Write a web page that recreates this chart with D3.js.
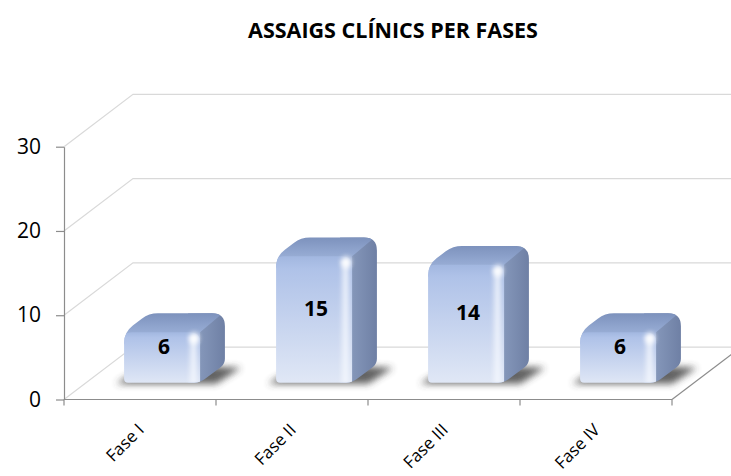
<!DOCTYPE html>
<html><head><meta charset="utf-8">
<script src="https://cdn.jsdelivr.net/npm/d3@7"></script>
<style>html,body{margin:0;padding:0;background:#fff;} svg{display:block;}</style>
</head><body><div id="chart"></div>
<script>
const title = "ASSAIGS CLÍNICS PER FASES";
const categories = ["Fase I", "Fase II", "Fase III", "Fase IV"];
const values = [6, 15, 14, 6];
const yTicks = [0, 10, 20, 30];

const W = 731, H = 476;
const font = "'Open Sans', Lato, sans-serif";
const svg = d3.select("#chart").append("svg").attr("width", W).attr("height", H);
const defs = svg.append("defs");

// plot geometry
const X0 = 64, X1 = 672, Y0 = 399.5, Y30 = 146.7;
const DX = 69, DY = -52.4;          // full depth offset of the 3D floor/walls
const z0 = 0.32, z1 = 0.68;          // bar depth span

const x = d3.scaleBand().domain(categories).range([X0, X1]).paddingInner(0.5).paddingOuter(0.25);
const y = d3.scaleLinear().domain([0, 30]).range([Y0, Y30]);

// gradients
function linGrad(id, x1, y1, x2, y2, stops) {
  const g = defs.append("linearGradient").attr("id", id)
    .attr("x1", x1).attr("y1", y1).attr("x2", x2).attr("y2", y2);
  stops.forEach(s => g.append("stop").attr("offset", s[0]).attr("stop-color", s[1]).attr("stop-opacity", s[2] == null ? 1 : s[2]));
}
linGrad("frontGrad", 0, 0, 0, 1, [[0, "#a2b7e0"], [0.1, "#afc2e8"], [1, "#e1e8f6"]]);
linGrad("sideGrad", 0, 0, 1, 0, [[0, "#9aabcb"], [0.35, "#8395b8"], [1, "#6d7ea3"]]);
linGrad("topGrad", 0, 1, 0, 0, [[0, "#a8bbe0"], [0.5, "#91a6cf"], [1, "#7a8fba"]]);
linGrad("hiGrad", 0, 0, 1, 0, [[0, "#ffffff", 0], [0.55, "#f4f8ff", 0.8], [1, "#ffffff", 0]]);
const blur = (id, s) => defs.append("filter").attr("id", id)
  .attr("x", "-50%").attr("y", "-50%").attr("width", "200%").attr("height", "200%")
  .append("feGaussianBlur").attr("stdDeviation", s);
blur("shadowBlur", 3.5);
blur("softBlur", 1.5);
blur("spotBlur", 2.5);

// back wall / side wall gridlines
const grid = svg.append("g");
yTicks.forEach(t => {
  grid.append("path")
    .attr("d", `M${X0},${y(t)}L${X0 + DX},${y(t) + DY}L${W + 20},${y(t) + DY}`)
    .attr("fill", "none").attr("stroke", "#d9d9d9").attr("stroke-width", 1.2);
});
// floor right edge
svg.append("line").attr("x1", X1).attr("y1", Y0).attr("x2", X1 + DX).attr("y2", Y0 + DY)
  .attr("stroke", "#8c8c8c").attr("stroke-width", 1.2);

function roundedPath(pts, radii) {
  const n = pts.length; let d = "";
  for (let i = 0; i < n; i++) {
    const p0 = pts[(i - 1 + n) % n], p1 = pts[i], p2 = pts[(i + 1) % n];
    const v1 = [p0[0] - p1[0], p0[1] - p1[1]], v2 = [p2[0] - p1[0], p2[1] - p1[1]];
    const l1 = Math.hypot(v1[0], v1[1]), l2 = Math.hypot(v2[0], v2[1]);
    const rr = Math.min(radii[i], l1 / 2, l2 / 2);
    const a = [p1[0] + v1[0] / l1 * rr, p1[1] + v1[1] / l1 * rr];
    const b = [p1[0] + v2[0] / l2 * rr, p1[1] + v2[1] / l2 * rr];
    d += (i === 0 ? "M" : "L") + a[0] + "," + a[1] + "Q" + p1[0] + "," + p1[1] + " " + b[0] + "," + b[1];
  }
  return d + "Z";
}

const bw = x.bandwidth();
const bdx = DX * (z1 - z0), bdy = DY * (z1 - z0);
const barsG = svg.append("g");

categories.forEach((c, i) => {
  const v = values[i];
  const xf0 = x(c) + DX * z0, xf1 = xf0 + bw;
  const yB = y(0) + DY * z0, yT = y(v) + DY * z0;
  const g = barsG.append("g");

  // shadow on floor
  g.append("path")
    .attr("d", `M${xf0 - 8},${yB + 1}L${xf1 + 16},${yB + 1}L${xf1 + bdx + 16},${yB + bdy + 4}L${xf0 + bdx},${yB + bdy}Z`)
    .attr("fill", "#3a3a3a").attr("opacity", 0.8).attr("filter", "url(#shadowBlur)");

  const sil = [[xf0, yB], [xf0, yT], [xf0 + bdx, yT + bdy], [xf1 + bdx, yT + bdy], [xf1 + bdx, yB + bdy], [xf1, yB]];
  const cid = "clip" + i;
  defs.append("clipPath").attr("id", cid).append("path").attr("d", roundedPath(sil, [4, 11, 9, 13, 5, 6]));
  const b = g.append("g").attr("clip-path", `url(#${cid})`);

  // side face
  b.append("path")
    .attr("d", `M${xf1 - 12},${yT + bdy - 2}L${xf1 + bdx + 2},${yT + bdy - 2}L${xf1 + bdx + 2},${yB + 2}L${xf1 - 12},${yB + 2}Z`)
    .attr("fill", "url(#sideGrad)");
  // top face
  b.append("path")
    .attr("d", `M${xf0 - 2},${yT + 12}L${xf0 - 2},${yT}L${xf0 + bdx},${yT + bdy - 2}L${xf1 + bdx},${yT + bdy - 2}L${xf1},${yT}L${xf1},${yT + 12}Z`)
    .attr("fill", "url(#topGrad)");
  // soft light rim along the top-front edge
  b.append("path")
    .attr("d", `M${xf0 + 4},${yT - 1}L${xf1 - 4},${yT - 1}`)
    .attr("stroke", "#c9d7f1").attr("stroke-width", 4).attr("opacity", 0.8).attr("filter", "url(#softBlur)");
  // front face
  b.append("path")
    .attr("d", roundedPath([[xf0 - 2, yB + 2], [xf0 - 2, yT], [xf1, yT], [xf1, yB + 2]], [0, 10, 10, 3]))
    .attr("fill", "url(#frontGrad)");
  // highlight strip near the right edge of the front face
  b.append("rect")
    .attr("x", xf1 - 13).attr("y", yT + 4).attr("width", 12).attr("height", yB - yT - 4)
    .attr("fill", "url(#hiGrad)").attr("filter", "url(#softBlur)");
  // bright spot at top-right corner
  b.append("ellipse")
    .attr("cx", xf1 - 6).attr("cy", yT + 6).attr("rx", 5).attr("ry", 6)
    .attr("fill", "#ffffff").attr("opacity", 0.9).attr("filter", "url(#spotBlur)");
  // soft bottom rim
  b.append("path")
    .attr("d", `M${xf0 + 3},${yB - 1.5}L${xf1 - 2},${yB - 1.5}`)
    .attr("stroke", "#f2f5fb").attr("stroke-width", 2).attr("opacity", 0.7).attr("filter", "url(#softBlur)");

  // data label
  g.append("text")
    .attr("x", xf0 + bw / 2 + 2)
    .attr("y", y(v / 2) + DY * 0.5 - 2)
    .attr("text-anchor", "middle").attr("dominant-baseline", "central")
    .attr("font-family", font).attr("font-weight", "bold").attr("font-size", 21)
    .attr("fill", "#000").text(v);
});

// Y axis
const yAxis = d3.axisLeft(y).tickValues(yTicks).tickSize(8).tickSizeOuter(0).tickPadding(15);
const ya = svg.append("g").attr("transform", `translate(${X0},0)`).call(yAxis);
ya.select(".domain").attr("stroke", "#8c8c8c").attr("stroke-width", 1.2);
ya.selectAll(".tick line").attr("stroke", "#8c8c8c").attr("stroke-width", 1.2);
ya.selectAll(".tick text").attr("font-family", font).attr("font-size", 21).attr("fill", "#000");

// X axis (front floor edge) with boundary ticks
const step = x.step();
const xa = svg.append("g");
xa.append("line").attr("x1", X0).attr("x2", X1).attr("y1", Y0).attr("y2", Y0)
  .attr("stroke", "#8c8c8c").attr("stroke-width", 1.2);
d3.range(categories.length + 1).forEach(k => {
  const xb = X0 + k * step;
  xa.append("line").attr("x1", xb).attr("x2", xb).attr("y1", Y0).attr("y2", Y0 + 6)
    .attr("stroke", "#8c8c8c").attr("stroke-width", 1.2);
});
categories.forEach(c => {
  const cx = x(c) + bw / 2 + 5;
  xa.append("text")
    .attr("transform", `translate(${cx},431) rotate(-45)`)
    .attr("text-anchor", "end")
    .attr("font-family", font).attr("font-size", 17).attr("fill", "#000")
    .text(c);
});

// title
svg.append("text").attr("x", 393).attr("y", 38).attr("text-anchor", "middle")
  .attr("font-family", font).attr("font-weight", "bold").attr("font-size", 21.5)
  .attr("fill", "#000").text(title);
</script>
</body></html>
